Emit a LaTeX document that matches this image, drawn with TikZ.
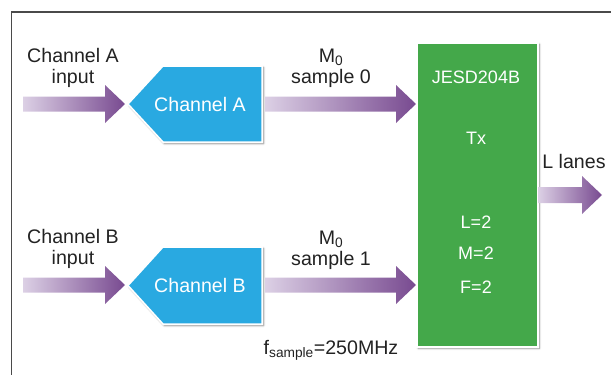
\documentclass[tikz,border=0pt]{standalone}
\usepackage{fontspec}
\setmainfont{Liberation Sans}
\usetikzlibrary{calc,shadows.blur}
\definecolor{pdark}{HTML}{784A90}
\definecolor{plight}{HTML}{DCD0E5}
\definecolor{chblue}{HTML}{29A9E1}
\definecolor{jgreen}{HTML}{44A84A}
\definecolor{framegray}{HTML}{4A4A4A}
\definecolor{txt}{HTML}{222222}
\tikzset{
  lbl/.style={align=center, font=\fontsize{19.6}{21}\selectfont, text=txt, inner sep=0pt},
  intxt/.style={font=\fontsize{19.6}{21}\selectfont, text=white, inner sep=0pt},
  jtxt/.style={font=\fontsize{18}{20}\selectfont, text=white, inner sep=0pt},
  softshadow/.style={blur shadow={shadow xshift=1.5pt, shadow yshift=-1.5pt, shadow blur steps=6, shadow opacity=45}},
  chshape/.style={fill=chblue, draw=white, line width=1.5pt, line join=miter, softshadow},
  barrowstyle/.style={left color=plight, right color=pdark}
}
\newcommand{\blockarrow}[3]{%
  \shade[barrowstyle] let \p1=(#1), \p2=(#2) in
    (\x1,\y1+#3) -- (\x2-20pt,\y1+#3) -- (\x2-20pt,\y1+19pt) -- (\x2,\y1)
    -- (\x2-20pt,\y1-19pt) -- (\x2-20pt,\y1-#3) -- (\x1,\y1-#3) -- cycle;}
\begin{document}
\begin{tikzpicture}[x=1pt,y=-1pt]
\useasboundingbox (0,0) rectangle (611,375);
% frame
\draw[framegray, line width=1.1pt] (611,12) -- (11.5,12) -- (11.5,375);
% JESD204B block
\node[draw=white, fill=jgreen, line width=1.5pt, softshadow, minimum width=121pt,
      minimum height=304pt, inner sep=0pt, anchor=north west] (jesd) at (416,42) {};
\node[jtxt] (jt1) at (476,77) {JESD204B};
\node[jtxt] (jt2) at (476,138) {Tx};
\node[jtxt] (jl) at (476,222) {L=2};
\node[jtxt] (jm) at (476,253) {M=2};
\node[jtxt] (jf) at (476,287) {F=2};
% channel blocks
\path[chshape] (163,66) -- (262,66) -- (262,142) -- (163,142) -- (128,104) -- cycle;
\node[intxt] (chA) at (200,104) {Channel A};
\path[chshape] (163,247) -- (262,247) -- (262,324) -- (163,324) -- (128,285.5) -- cycle;
\node[intxt] (chB) at (200,285) {Channel B};
% connector end points
\coordinate (inAs) at (23,104);
\coordinate (inAt) at (125,104);
\coordinate (outAs) at (265,104);
\coordinate (outAt) at (jesd.west |- outAs);
\coordinate (inBs) at (23,285);
\coordinate (inBt) at (125,285);
\coordinate (outBs) at (265,285);
\coordinate (outBt) at (jesd.west |- outBs);
\coordinate (lanesS) at (538,195);
\coordinate (lanesT) at (602,195);
% block arrows
\blockarrow{inAs}{inAt}{7.5pt}
\blockarrow{outAs}{outAt}{7.5pt}
\blockarrow{inBs}{inBt}{7.5pt}
\blockarrow{outBs}{outBt}{7.5pt}
\blockarrow{lanesS}{lanesT}{8pt}
% labels
\node[lbl] (labA) at (73,68) {Channel A\\input};
\node[lbl] (labB) at (73,249) {Channel B\\input};
\node[lbl] (labM0) at (331,68) {M\textsubscript{0}\\sample 0};
\node[lbl] (labM1) at (331,250) {M\textsubscript{0}\\sample 1};
\node[lbl] (lanes) at (574,161) {L lanes};
\node[lbl] (fs) at (331,350) {f\textsubscript{sample}=250MHz};
\end{tikzpicture}
\end{document}
